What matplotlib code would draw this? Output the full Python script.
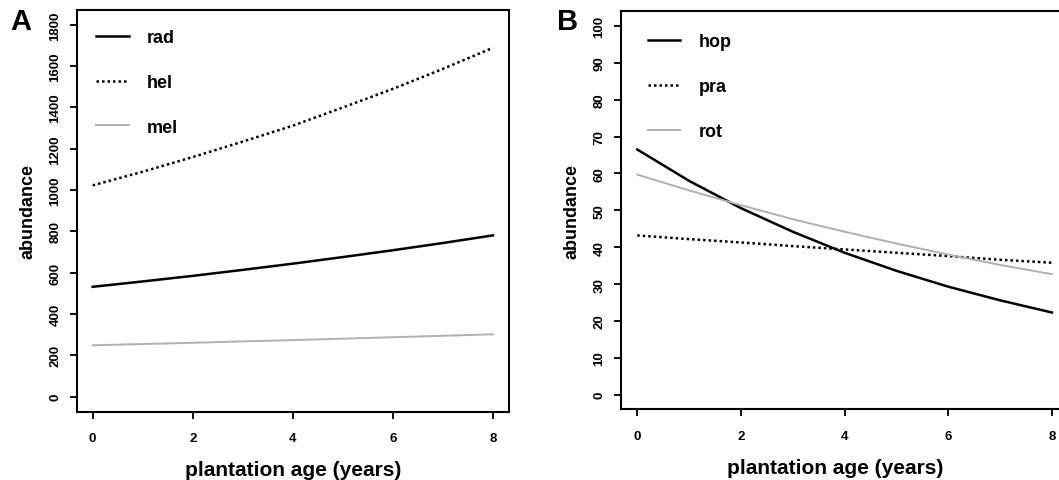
import matplotlib
matplotlib.use("Agg")
import matplotlib.pyplot as plt

plt.rcParams['font.family'] = ['Liberation Sans', 'DejaVu Sans']
plt.rcParams['font.weight'] = 'bold'

# Data
age = [0, 1, 2, 3, 4, 5, 6, 7, 8]

rad = [532, 558, 585, 614, 644, 676, 709, 744, 781]
hel = [1023, 1089, 1160, 1235, 1312, 1400, 1490, 1587, 1689]
mel = [249, 255, 261, 268, 274, 281, 288, 295, 302]

hop = [66.5, 58.0, 50.6, 44.2, 38.5, 33.6, 29.3, 25.6, 22.3]
pra = [43.2, 42.2, 41.3, 40.3, 39.4, 38.5, 37.6, 36.6, 35.8]
rot = [59.7, 55.4, 51.4, 47.6, 44.2, 41.0, 38.0, 35.2, 32.7]

xticks = [0, 2, 4, 6, 8]
yticks_a = [0, 200, 400, 600, 800, 1000, 1200, 1400, 1600, 1800]
yticks_b = [0, 10, 20, 30, 40, 50, 60, 70, 80, 90, 100]

gray = '#b0b0b0'
dot = (0, (1.0, 1.2))

fig = plt.figure(figsize=(10.59, 4.81), dpi=100)
axA = fig.add_axes([0.0724, 0.1422, 0.4082, 0.835])
axB = fig.add_axes([0.5861, 0.1466, 0.4229, 0.828])


def style(ax, yticks, ylim):
    ax.set_xlim(-0.32, 8.32)
    ax.set_ylim(*ylim)
    ax.set_xticks(xticks)
    ax.set_yticks(yticks)
    ax.set_xticklabels([str(v) for v in xticks], fontsize=9.5, fontweight='bold')
    ax.set_yticklabels([str(v) for v in yticks], fontsize=9.5, fontweight='bold',
                       rotation=90, va='center')
    ax.tick_params(axis='both', length=5, width=1.3, direction='out')
    ax.tick_params(axis='x', pad=10)
    ax.tick_params(axis='y', pad=6)
    for s in ax.spines.values():
        s.set_linewidth(1.5)
    ax.set_xlabel('plantation age (years)', fontsize=15, fontweight='bold', labelpad=11)
    ax.set_ylabel('abundance', fontsize=13, fontweight='bold', labelpad=9)


axA.plot(age, rad, color='black', lw=1.8, label='rad')
axA.plot(age, hel, color='black', lw=1.8, linestyle=dot, label='hel')
axA.plot(age, mel, color=gray, lw=1.4, label='mel')
style(axA, yticks_a, (-72, 1872))
axA.legend(loc='upper left', bbox_to_anchor=(0.045, 0.953), frameon=False,
           borderpad=0, borderaxespad=0, handlelength=1.8, handletextpad=1.0,
           labelspacing=1.55, prop={'size': 13, 'weight': 'bold'})

axB.plot(age, hop, color='black', lw=1.8, label='hop')
axB.plot(age, pra, color='black', lw=1.8, linestyle=dot, label='pra')
axB.plot(age, rot, color=gray, lw=1.4, label='rot')
style(axB, yticks_b, (-4, 104))
axB.xaxis.label.set_x(0.478)
axB.legend(loc='upper left', bbox_to_anchor=(0.061, 0.945), frameon=False,
           borderpad=0, borderaxespad=0, handlelength=1.8, handletextpad=1.0,
           labelspacing=1.55, prop={'size': 13, 'weight': 'bold'})

fig.text(10 / 1059, 1 - 22 / 481, 'A', fontsize=21, fontweight='bold', va='center', ha='left')
fig.text(557 / 1059, 1 - 22 / 481, 'B', fontsize=21, fontweight='bold', va='center', ha='left')

fig.savefig('out.png', dpi=100)
